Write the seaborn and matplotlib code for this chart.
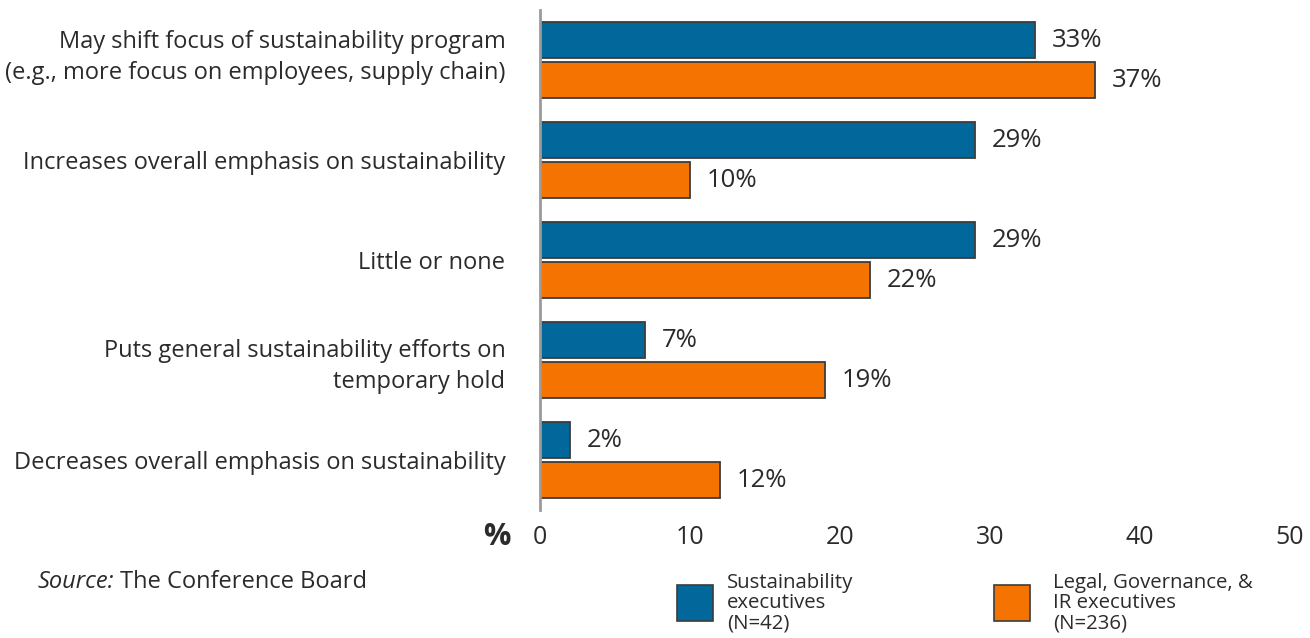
import matplotlib
matplotlib.use("Agg")
import matplotlib.pyplot as plt
from matplotlib.patches import Rectangle
from matplotlib.transforms import ScaledTranslation
import seaborn as sns
import pandas as pd

categories = [
    "May shift focus of sustainability program\n(e.g., more focus on employees, supply chain)",
    "Increases overall emphasis on sustainability",
    "Little or none",
    "Puts general sustainability efforts on\ntemporary hold",
    "Decreases overall emphasis on sustainability",
]
series_names = ["Sustainability executives", "Legal, Governance, & IR executives"]
sustainability_execs = [33, 29, 29, 7, 2]
legal_gov_ir_execs = [37, 10, 22, 19, 12]
x_ticks = [0, 10, 20, 30, 40, 50]
legend_labels = ["Sustainability\nexecutives\n(N=42)", "Legal, Governance, &\nIR executives\n(N=236)"]

BLUE = "#02679A"
ORANGE = "#F57300"
EDGE = "#3c3c3c"
TEXT = "#2b2b2b"

df = pd.DataFrame({
    "category": categories * 2,
    "group": [series_names[0]] * len(categories) + [series_names[1]] * len(categories),
    "value": sustainability_execs + legal_gov_ir_execs,
})

sns.set_theme(style="white")
plt.rcParams["font.family"] = ["Open Sans", "DejaVu Sans"]

fig = plt.figure(figsize=(13.1, 6.38), dpi=100)
ax = fig.add_axes([0.4122, 0.2006, 0.5725, 0.7837])

sns.barplot(
    data=df, y="category", x="value", hue="group", orient="h",
    palette=[BLUE, ORANGE], saturation=1, order=categories, hue_order=series_names,
    width=0.8, gap=0.1, edgecolor=EDGE, linewidth=1.3, legend=False, ax=ax,
)

for container in ax.containers:
    ax.bar_label(container, labels=[f"{v:.0f}%" for v in container.datavalues],
                 padding=12, fontsize=18.5, color=TEXT)

ax.set_xlim(0, 50)
ax.set_ylim(4.5, -0.5)
ax.set_xticks(x_ticks)
ax.set_xticklabels([str(t) for t in x_ticks], fontsize=18, color=TEXT)
ax.tick_params(axis="x", length=0, pad=11)
ax.tick_params(axis="y", length=0, pad=25)
for lbl in ax.get_yticklabels():
    lbl.set_fontsize(17)
    lbl.set_color(TEXT)
    lbl.set_horizontalalignment("right")
    lbl.set_multialignment("right")
    lbl.set_linespacing(1.4)
# the two-line top label sits a little above its bar pair
first = ax.get_yaxis().get_major_ticks()[0].label1
first.set_transform(first.get_transform() + ScaledTranslation(0, 0.09, fig.dpi_scale_trans))
ax.set_xlabel("")
ax.set_ylabel("")
for side in ["top", "right", "bottom"]:
    ax.spines[side].set_visible(False)
ax.spines["left"].set_color("#9a9a9a")
ax.spines["left"].set_linewidth(2)

# axis unit marker
fig.text(497 / 1310, 1 - 537 / 638, "%", fontsize=22, fontweight="bold",
         color=TEXT, ha="center", va="center")

# source note
src = fig.text(38 / 1310, 1 - 582 / 638, "Source:", fontsize=17, style="italic",
               color=TEXT, ha="left", va="center")
fig.canvas.draw()
bb = src.get_window_extent()
fig.text((bb.x1 + 6) / 1310, 1 - 582 / 638, "The Conference Board", fontsize=17,
         color=TEXT, ha="left", va="center")

# legend
for (sx, tx), color, label in zip([(677, 727), (994, 1053)], [BLUE, ORANGE], legend_labels):
    fig.add_artist(Rectangle((sx / 1310, 1 - 621 / 638), 36 / 1310, 36 / 638,
                             transform=fig.transFigure, facecolor=color,
                             edgecolor=EDGE, linewidth=1.2))
    fig.text(tx / 1310, 1 - 603 / 638, label, fontsize=14.7, color=TEXT,
             ha="left", va="center", linespacing=1.0)

fig.savefig("out.png", dpi=100, facecolor="white")
